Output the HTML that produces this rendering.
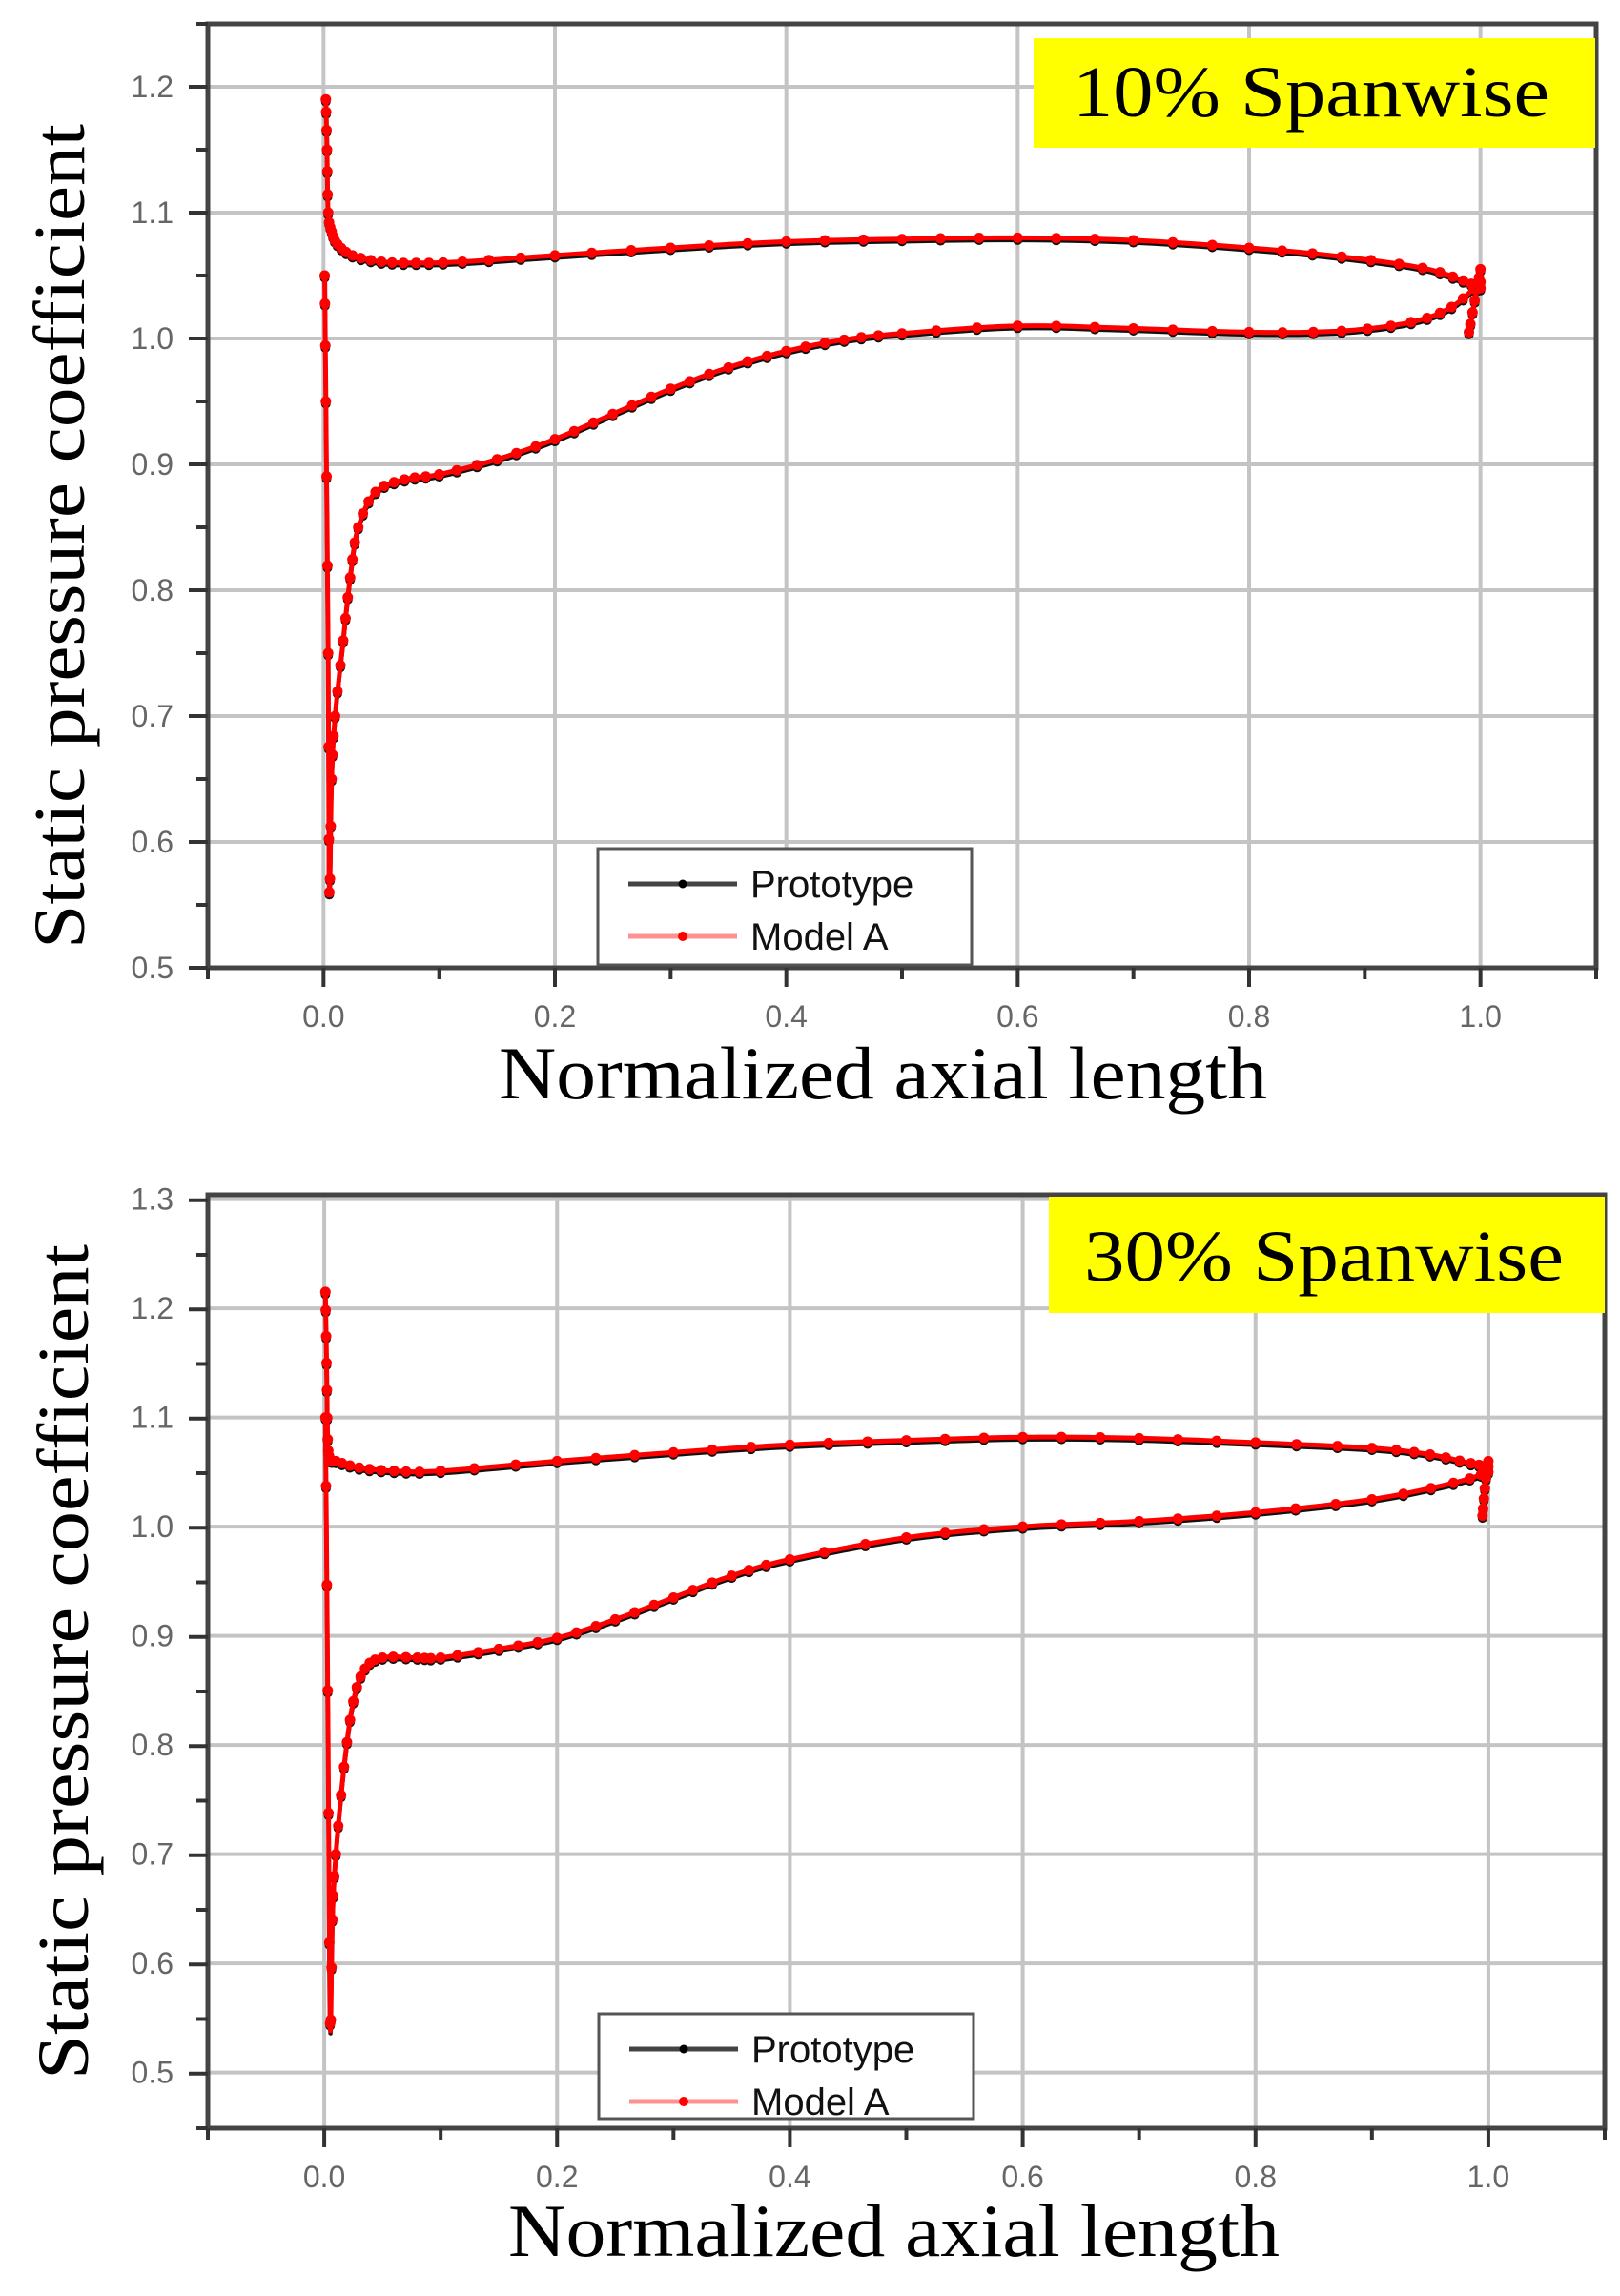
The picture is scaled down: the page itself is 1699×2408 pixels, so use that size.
<!DOCTYPE html>
<html><head><meta charset="utf-8"><style>
html,body{margin:0;padding:0;background:#fff;}
svg{display:block;}
</style></head><body>
<svg id="s" width="1699" height="2408" xmlns="http://www.w3.org/2000/svg" font-family="Liberation Sans, sans-serif">
<rect width="1699" height="2408" fill="#fff"/>
<g id="c1"></g><g id="c2"></g>
<text x="0" y="0" transform="translate(88,995) rotate(-90)" font-family="Liberation Serif, serif" font-size="76" textLength="865" lengthAdjust="spacingAndGlyphs" fill="#000">Static pressure coefficient</text>
<text x="523" y="1152" font-family="Liberation Serif, serif" font-size="78" textLength="806" lengthAdjust="spacingAndGlyphs" fill="#000">Normalized axial length</text>
<text x="0" y="0" transform="translate(92,2181) rotate(-90)" font-family="Liberation Serif, serif" font-size="76" textLength="876" lengthAdjust="spacingAndGlyphs" fill="#000">Static pressure coefficient</text>
<text x="533" y="2366" font-family="Liberation Serif, serif" font-size="78" textLength="809" lengthAdjust="spacingAndGlyphs" fill="#000">Normalized axial length</text>
</svg>
<script>
var NS="http://www.w3.org/2000/svg";
function el(p,t,a,txt){var e=document.createElementNS(NS,t);for(var k in a)e.setAttribute(k,a[k]);if(txt!==undefined)e.textContent=txt;p.appendChild(e);return e;}
function interp(pts,n){var out=[];for(var i=0;i<pts.length-1;i++){var p0=pts[Math.max(0,i-1)],p1=pts[i],p2=pts[i+1],p3=pts[Math.min(pts.length-1,i+2)];for(var j=0;j<n;j++){var t=j/n,t2=t*t,t3=t2*t;var f=function(a,b,c,d){return 0.5*((2*b)+(-a+c)*t+(2*a-5*b+4*c-d)*t2+(-a+3*b-3*c+d)*t3);};out.push([f(p0[0],p1[0],p2[0],p3[0]),f(p0[1],p1[1],p2[1],p3[1])]);}}out.push(pts[pts.length-1]);return out;}
function chart(g,cfg){
 var X=function(x){return cfg.x0+(x-cfg.xmin)/(cfg.xmax-cfg.xmin)*(cfg.x1-cfg.x0);};
 var Y=function(y){return cfg.y1-(y-cfg.ymin)/(cfg.ymax-cfg.ymin)*(cfg.y1-cfg.y0);};
 for(var x=0;x<=1.0001;x+=0.2){el(g,'line',{x1:X(x),x2:X(x),y1:cfg.y0,y2:cfg.y1,stroke:'#c4c4c4','stroke-width':4});}
 cfg.yt.forEach(function(y){el(g,'line',{x1:cfg.x0,x2:cfg.x1,y1:Y(y),y2:Y(y),stroke:'#c4c4c4','stroke-width':4});});
 function series(pts,col,lw,mk,dx,dy){var d=interp(pts,6);var s='';d.forEach(function(p,i){s+=(i?'L':'M')+(X(p[0])+dx).toFixed(1)+','+(Y(p[1])+dy).toFixed(1);});el(g,'path',{d:s,fill:'none',stroke:col,'stroke-width':lw,'stroke-linejoin':'round'});
  for(var i=0;i<d.length;i+=2){el(g,'circle',{cx:X(d[i][0])+dx,cy:Y(d[i][1])+dy,r:mk,fill:col});}}
 cfg.curves.forEach(function(c){series(c,'#111',4.5,5,0,2.5);});
 cfg.curves.forEach(function(c){series(c,'#ff0000',5,5.5,0,0);});
 el(g,'rect',{x:cfg.x0,y:cfg.y0,width:cfg.x1-cfg.x0,height:cfg.y1-cfg.y0,fill:'none',stroke:'#444','stroke-width':5});
 for(var x=-0.1;x<=1.1001;x+=0.1){var maj=Math.abs(Math.round(x*10)%2)==0;el(g,'line',{x1:X(x),x2:X(x),y1:cfg.y1,y2:cfg.y1+(maj?20:12),stroke:'#333','stroke-width':4});}
 for(var x=0;x<=1.0001;x+=0.2){el(g,'text',{x:X(x),y:cfg.y1+62,'text-anchor':'middle','font-size':32,fill:'#666'},x.toFixed(1));}
 for(var y=cfg.ymin;y<=cfg.ymax+0.0001;y+=0.05){var yy=Math.round(y*100);if(yy<Math.round(cfg.ymin*100))continue;var maj=(yy%10)==0;el(g,'line',{x1:cfg.x0,x2:cfg.x0-(maj?20:12),y1:Y(y),y2:Y(y),stroke:'#333','stroke-width':4});}
 cfg.yt.forEach(function(y){el(g,'text',{x:cfg.x0-36,y:Y(y)+11,'text-anchor':'end','font-size':32,fill:'#666'},y.toFixed(1));});
 el(g,'rect',{x:cfg.lab[0],y:cfg.lab[1],width:cfg.lab[2],height:cfg.lab[3],fill:'#ffff00'});
 el(g,'text',{x:cfg.lab[4],y:cfg.lab[5],'font-family':'Liberation Serif, serif','font-size':76,fill:'#000',textLength:cfg.lab[6],lengthAdjust:'spacingAndGlyphs'},cfg.lab[7]);
 var L=cfg.leg;el(g,'rect',{x:L[0],y:L[1],width:L[2],height:L[3],fill:'#fff',stroke:'#555','stroke-width':3});
 el(g,'line',{x1:L[0]+32,x2:L[0]+146,y1:L[1]+37,y2:L[1]+37,stroke:'#444','stroke-width':5});
 el(g,'circle',{cx:L[0]+89,cy:L[1]+37,r:4.5,fill:'#000'});
 el(g,'line',{x1:L[0]+32,x2:L[0]+146,y1:L[1]+92,y2:L[1]+92,stroke:'#ff9090','stroke-width':5});
 el(g,'circle',{cx:L[0]+89,cy:L[1]+92,r:5,fill:'#f00'});
 el(g,'text',{x:L[0]+160,y:L[1]+51,'font-size':40,fill:'#111'},'Prototype');
 el(g,'text',{x:L[0]+160,y:L[1]+106,'font-size':40,fill:'#111'},'Model A');
}
var top1={x0:218,x1:1674,y0:25,y1:1015,xmin:-0.1,xmax:1.1,ymin:0.5,ymax:1.25,yt:[0.5,0.6,0.7,0.8,0.9,1.0,1.1,1.2],
 lab:[1084,40,589,115,1125,122,500,'10% Spanwise'],leg:[627,890,392,122],
 curves:[
 [[0.002,1.19],[0.003,1.15],[0.004,1.1],[0.007,1.085],[0.012,1.075],[0.025,1.066],[0.05,1.061],[0.08,1.06],[0.12,1.061],[0.2,1.066],[0.3,1.072],[0.4,1.077],[0.5,1.079],[0.6,1.08],[0.7,1.078],[0.8,1.072],[0.88,1.065],[0.95,1.056],[0.985,1.046],[1.0,1.04]],
 [[0.001,1.05],[0.002,0.95],[0.004,0.75],[0.005,0.56],[0.007,0.65],[0.01,0.7],[0.017,0.76],[0.023,0.81],[0.03,0.85],[0.045,0.878],[0.07,0.888],[0.1,0.892],[0.15,0.904],[0.2,0.92],[0.25,0.94],[0.3,0.96],[0.35,0.977],[0.4,0.99],[0.45,0.999],[0.5,1.004],[0.6,1.01],[0.7,1.008],[0.8,1.005],[0.88,1.006],[0.94,1.013],[0.975,1.025],[1.0,1.045]],
 [[0.99,1.005],[0.995,1.03],[1.0,1.055]]
 ]};
var bot={x0:218,x1:1683,y0:1253,y1:2232,xmin:-0.1,xmax:1.1,ymin:0.449,ymax:1.304,yt:[0.5,0.6,0.7,0.8,0.9,1.0,1.1,1.2,1.3],
 lab:[1100,1255,583,122,1137,1343,503,'30% Spanwise'],leg:[628,2112,393,110],
 curves:[
 [[0.001,1.215],[0.002,1.15],[0.003,1.08],[0.005,1.062],[0.01,1.06],[0.03,1.054],[0.06,1.051],[0.1,1.051],[0.2,1.06],[0.3,1.068],[0.4,1.075],[0.5,1.079],[0.6,1.082],[0.7,1.081],[0.8,1.077],[0.9,1.072],[0.95,1.066],[0.985,1.058],[1.0,1.055]],
 [[0.001,1.1],[0.003,0.85],[0.005,0.545],[0.007,0.64],[0.01,0.7],[0.017,0.78],[0.025,0.84],[0.035,0.87],[0.05,0.88],[0.08,0.88],[0.1,0.88],[0.15,0.888],[0.2,0.898],[0.25,0.915],[0.3,0.935],[0.35,0.955],[0.4,0.97],[0.5,0.99],[0.6,1.0],[0.7,1.005],[0.8,1.013],[0.9,1.025],[0.97,1.04],[1.0,1.05]],
 [[0.995,1.01],[0.997,1.035],[1.0,1.06]]
 ]};
chart(document.getElementById('c1'),top1);
chart(document.getElementById('c2'),bot);
</script>
</body></html>
